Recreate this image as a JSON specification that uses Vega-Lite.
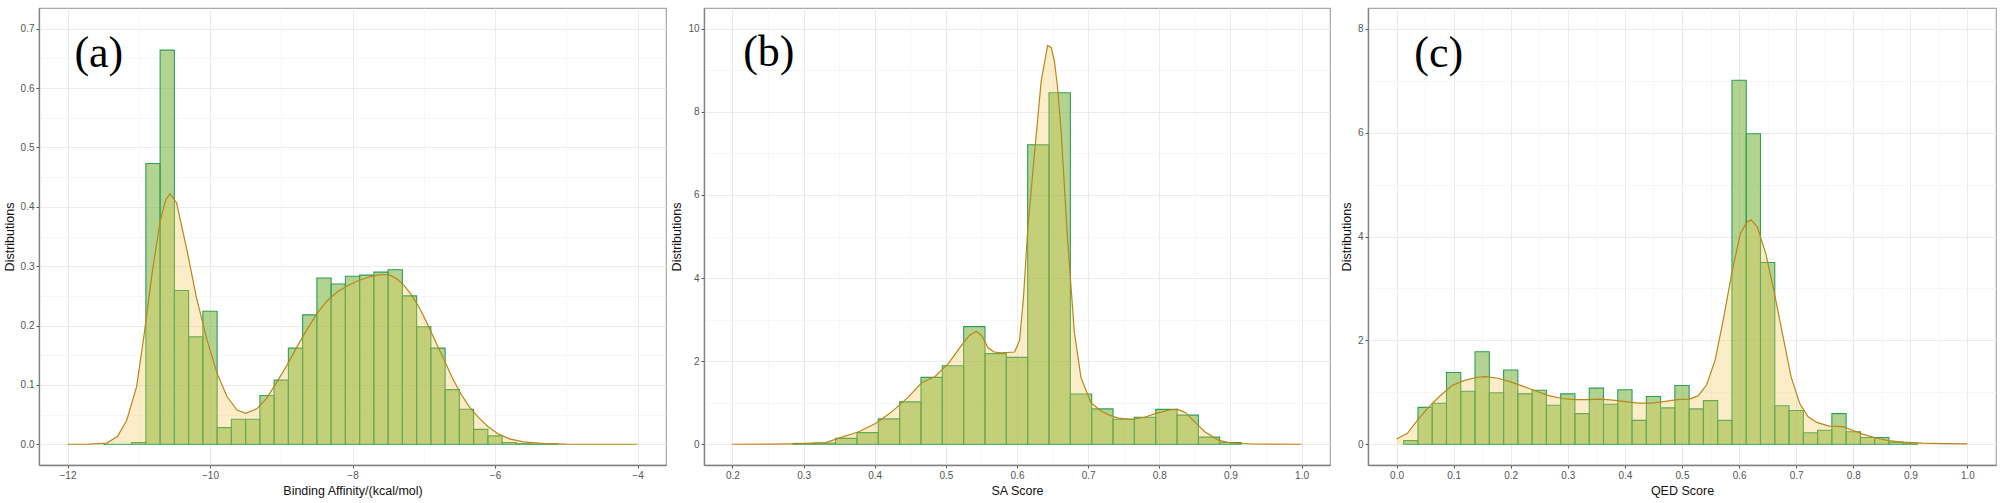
{
  "$schema": "https://vega.github.io/schema/vega-lite/v6.json",
  "padding": {"left": 2, "top": 7, "right": 0, "bottom": 0},
  "background": "white",
  "spacing": 38,
  "bounds": "flush",
  "config": {
    "font": "Liberation Sans",
    "view": {"stroke": "#a8a8a8", "strokeWidth": 1.2},
    "axis": {
      "gridColor": "#ebebeb", "gridWidth": 1,
      "domain": true, "domainColor": "#808080", "domainWidth": 1.3,
      "tickColor": "#555555", "tickSize": 3,
      "labelFontSize": 10, "labelColor": "#555555", "labelPadding": 2, "labelFlush": false, "labelOverlap": false,
      "titleFontSize": 12.5, "titleFontWeight": "normal", "titleColor": "#111111", "titlePadding": 4
    }
  },
  "datasets": {
    "binsA": [
      {"lo": -11.5, "hi": -11.3, "d": 0}, {"lo": -11.3, "hi": -11.1, "d": 0}, {"lo": -11.1, "hi": -10.9, "d": 0.003},
      {"lo": -10.9, "hi": -10.7, "d": 0.473}, {"lo": -10.7, "hi": -10.5, "d": 0.664}, {"lo": -10.5, "hi": -10.3, "d": 0.259},
      {"lo": -10.3, "hi": -10.1, "d": 0.181}, {"lo": -10.1, "hi": -9.9, "d": 0.224}, {"lo": -9.9, "hi": -9.7, "d": 0.028},
      {"lo": -9.7, "hi": -9.5, "d": 0.042}, {"lo": -9.5, "hi": -9.3, "d": 0.042}, {"lo": -9.3, "hi": -9.1, "d": 0.082},
      {"lo": -9.1, "hi": -8.9, "d": 0.108}, {"lo": -8.9, "hi": -8.7, "d": 0.162}, {"lo": -8.7, "hi": -8.5, "d": 0.218},
      {"lo": -8.5, "hi": -8.3, "d": 0.28}, {"lo": -8.3, "hi": -8.1, "d": 0.27}, {"lo": -8.1, "hi": -7.9, "d": 0.283},
      {"lo": -7.9, "hi": -7.7, "d": 0.285}, {"lo": -7.7, "hi": -7.5, "d": 0.29}, {"lo": -7.5, "hi": -7.3, "d": 0.294},
      {"lo": -7.3, "hi": -7.1, "d": 0.25}, {"lo": -7.1, "hi": -6.9, "d": 0.198}, {"lo": -6.9, "hi": -6.7, "d": 0.162},
      {"lo": -6.7, "hi": -6.5, "d": 0.092}, {"lo": -6.5, "hi": -6.3, "d": 0.059}, {"lo": -6.3, "hi": -6.1, "d": 0.025},
      {"lo": -6.1, "hi": -5.9, "d": 0.014}, {"lo": -5.9, "hi": -5.7, "d": 0.003}, {"lo": -5.7, "hi": -5.5, "d": 0.001},
      {"lo": -5.5, "hi": -5.3, "d": 0.0005}, {"lo": -5.3, "hi": -5.1, "d": 0}
    ],
    "densA": [
      {"x": -12, "y": 0}, {"x": -11.7, "y": 0.0003}, {"x": -11.45, "y": 0.002}, {"x": -11.3, "y": 0.013},
      {"x": -11.17, "y": 0.04}, {"x": -11.03, "y": 0.097}, {"x": -10.93, "y": 0.18}, {"x": -10.81, "y": 0.29},
      {"x": -10.7, "y": 0.376}, {"x": -10.62, "y": 0.412}, {"x": -10.56, "y": 0.422}, {"x": -10.47, "y": 0.407},
      {"x": -10.33, "y": 0.331}, {"x": -10.19, "y": 0.247}, {"x": -10.04, "y": 0.175}, {"x": -9.9, "y": 0.119},
      {"x": -9.76, "y": 0.08}, {"x": -9.62, "y": 0.0575}, {"x": -9.5, "y": 0.052}, {"x": -9.34, "y": 0.06},
      {"x": -9.2, "y": 0.078}, {"x": -9.06, "y": 0.105}, {"x": -8.92, "y": 0.133}, {"x": -8.78, "y": 0.164},
      {"x": -8.64, "y": 0.193}, {"x": -8.5, "y": 0.22}, {"x": -8.36, "y": 0.241}, {"x": -8.22, "y": 0.256},
      {"x": -8.07, "y": 0.267}, {"x": -7.93, "y": 0.275}, {"x": -7.79, "y": 0.281}, {"x": -7.65, "y": 0.285},
      {"x": -7.56, "y": 0.286}, {"x": -7.46, "y": 0.284}, {"x": -7.37, "y": 0.278}, {"x": -7.28, "y": 0.268},
      {"x": -7.18, "y": 0.253}, {"x": -7.06, "y": 0.23}, {"x": -6.95, "y": 0.203}, {"x": -6.83, "y": 0.172},
      {"x": -6.71, "y": 0.141}, {"x": -6.6, "y": 0.112}, {"x": -6.48, "y": 0.085}, {"x": -6.36, "y": 0.063},
      {"x": -6.24, "y": 0.046}, {"x": -6.1, "y": 0.03}, {"x": -5.95, "y": 0.017}, {"x": -5.8, "y": 0.009},
      {"x": -5.6, "y": 0.004}, {"x": -5.35, "y": 0.0015}, {"x": -5.0, "y": 0.0003}, {"x": -4.5, "y": 0}, {"x": -4, "y": 0}
    ],
    "binsB": [
      {"lo": 0.285, "hi": 0.315, "d": 0.02}, {"lo": 0.315, "hi": 0.345, "d": 0.03}, {"lo": 0.345, "hi": 0.375, "d": 0.14},
      {"lo": 0.375, "hi": 0.405, "d": 0.28}, {"lo": 0.405, "hi": 0.435, "d": 0.61}, {"lo": 0.435, "hi": 0.465, "d": 1.02},
      {"lo": 0.465, "hi": 0.495, "d": 1.61}, {"lo": 0.495, "hi": 0.525, "d": 1.89}, {"lo": 0.525, "hi": 0.555, "d": 2.83},
      {"lo": 0.555, "hi": 0.585, "d": 2.18}, {"lo": 0.585, "hi": 0.615, "d": 2.09}, {"lo": 0.615, "hi": 0.645, "d": 7.21},
      {"lo": 0.645, "hi": 0.675, "d": 8.46}, {"lo": 0.675, "hi": 0.705, "d": 1.21}, {"lo": 0.705, "hi": 0.735, "d": 0.85},
      {"lo": 0.735, "hi": 0.765, "d": 0.6}, {"lo": 0.765, "hi": 0.795, "d": 0.65}, {"lo": 0.795, "hi": 0.825, "d": 0.84},
      {"lo": 0.825, "hi": 0.855, "d": 0.7}, {"lo": 0.855, "hi": 0.885, "d": 0.17}, {"lo": 0.885, "hi": 0.915, "d": 0.04}
    ],
    "densB": [
      {"x": 0.2, "y": 0}, {"x": 0.26, "y": 0.004}, {"x": 0.3, "y": 0.015}, {"x": 0.331, "y": 0.04},
      {"x": 0.354, "y": 0.17}, {"x": 0.3775, "y": 0.3}, {"x": 0.401, "y": 0.5}, {"x": 0.424, "y": 0.78},
      {"x": 0.4474, "y": 1.14}, {"x": 0.466, "y": 1.48}, {"x": 0.4848, "y": 1.63}, {"x": 0.5034, "y": 1.94},
      {"x": 0.522, "y": 2.38}, {"x": 0.533, "y": 2.62}, {"x": 0.543, "y": 2.72}, {"x": 0.551, "y": 2.6},
      {"x": 0.5593, "y": 2.32}, {"x": 0.568, "y": 2.22}, {"x": 0.578, "y": 2.2}, {"x": 0.5966, "y": 2.22},
      {"x": 0.6036, "y": 2.5}, {"x": 0.609, "y": 3.5}, {"x": 0.6152, "y": 5.2}, {"x": 0.6246, "y": 7.0},
      {"x": 0.634, "y": 8.74}, {"x": 0.643, "y": 9.6}, {"x": 0.648, "y": 9.55}, {"x": 0.6526, "y": 9.22},
      {"x": 0.657, "y": 8.6}, {"x": 0.662, "y": 7.54}, {"x": 0.6712, "y": 4.9}, {"x": 0.6806, "y": 2.7},
      {"x": 0.69, "y": 1.6}, {"x": 0.704, "y": 1.0}, {"x": 0.718, "y": 0.8}, {"x": 0.73, "y": 0.7},
      {"x": 0.742, "y": 0.63}, {"x": 0.761, "y": 0.6}, {"x": 0.779, "y": 0.65}, {"x": 0.797, "y": 0.75},
      {"x": 0.816, "y": 0.83}, {"x": 0.826, "y": 0.84}, {"x": 0.837, "y": 0.76}, {"x": 0.849, "y": 0.55},
      {"x": 0.864, "y": 0.3}, {"x": 0.883, "y": 0.1}, {"x": 0.901, "y": 0.03}, {"x": 0.932, "y": 0.005}, {"x": 1.0, "y": 0}
    ],
    "binsC": [
      {"lo": 0.0125, "hi": 0.0375, "d": 0.07}, {"lo": 0.0375, "hi": 0.0625, "d": 0.71}, {"lo": 0.0625, "hi": 0.0875, "d": 0.79},
      {"lo": 0.0875, "hi": 0.1125, "d": 1.38}, {"lo": 0.1125, "hi": 0.1375, "d": 1.02}, {"lo": 0.1375, "hi": 0.1625, "d": 1.78},
      {"lo": 0.1625, "hi": 0.1875, "d": 0.99}, {"lo": 0.1875, "hi": 0.2125, "d": 1.43}, {"lo": 0.2125, "hi": 0.2375, "d": 0.97},
      {"lo": 0.2375, "hi": 0.2625, "d": 1.04}, {"lo": 0.2625, "hi": 0.2875, "d": 0.75}, {"lo": 0.2875, "hi": 0.3125, "d": 0.97},
      {"lo": 0.3125, "hi": 0.3375, "d": 0.59}, {"lo": 0.3375, "hi": 0.3625, "d": 1.08}, {"lo": 0.3625, "hi": 0.3875, "d": 0.77},
      {"lo": 0.3875, "hi": 0.4125, "d": 1.05}, {"lo": 0.4125, "hi": 0.4375, "d": 0.46}, {"lo": 0.4375, "hi": 0.4625, "d": 0.92},
      {"lo": 0.4625, "hi": 0.4875, "d": 0.7}, {"lo": 0.4875, "hi": 0.5125, "d": 1.13}, {"lo": 0.5125, "hi": 0.5375, "d": 0.68},
      {"lo": 0.5375, "hi": 0.5625, "d": 0.84}, {"lo": 0.5625, "hi": 0.5875, "d": 0.46}, {"lo": 0.5875, "hi": 0.6125, "d": 7.01},
      {"lo": 0.6125, "hi": 0.6375, "d": 5.98}, {"lo": 0.6375, "hi": 0.6625, "d": 3.5}, {"lo": 0.6625, "hi": 0.6875, "d": 0.74},
      {"lo": 0.6875, "hi": 0.7125, "d": 0.65}, {"lo": 0.7125, "hi": 0.7375, "d": 0.22}, {"lo": 0.7375, "hi": 0.7625, "d": 0.27},
      {"lo": 0.7625, "hi": 0.7875, "d": 0.59}, {"lo": 0.7875, "hi": 0.8125, "d": 0.24}, {"lo": 0.8125, "hi": 0.8375, "d": 0.13},
      {"lo": 0.8375, "hi": 0.8625, "d": 0.13}, {"lo": 0.8625, "hi": 0.8875, "d": 0.04}, {"lo": 0.8875, "hi": 0.9125, "d": 0.01}
    ],
    "densC": [
      {"x": 0.0, "y": 0.1}, {"x": 0.019, "y": 0.21}, {"x": 0.037, "y": 0.47}, {"x": 0.056, "y": 0.71},
      {"x": 0.074, "y": 0.91}, {"x": 0.097, "y": 1.13}, {"x": 0.119, "y": 1.23}, {"x": 0.141, "y": 1.29},
      {"x": 0.156, "y": 1.3}, {"x": 0.178, "y": 1.27}, {"x": 0.2, "y": 1.2}, {"x": 0.223, "y": 1.11},
      {"x": 0.245, "y": 1.02}, {"x": 0.268, "y": 0.93}, {"x": 0.29, "y": 0.88}, {"x": 0.312, "y": 0.86},
      {"x": 0.335, "y": 0.86}, {"x": 0.357, "y": 0.87}, {"x": 0.379, "y": 0.85}, {"x": 0.401, "y": 0.82},
      {"x": 0.424, "y": 0.79}, {"x": 0.446, "y": 0.79}, {"x": 0.468, "y": 0.82}, {"x": 0.491, "y": 0.86},
      {"x": 0.513, "y": 0.87}, {"x": 0.528, "y": 0.93}, {"x": 0.543, "y": 1.14}, {"x": 0.558, "y": 1.62},
      {"x": 0.572, "y": 2.38}, {"x": 0.587, "y": 3.28}, {"x": 0.602, "y": 4.05}, {"x": 0.613, "y": 4.27},
      {"x": 0.621, "y": 4.32}, {"x": 0.632, "y": 4.18}, {"x": 0.647, "y": 3.66}, {"x": 0.662, "y": 2.9},
      {"x": 0.677, "y": 2.07}, {"x": 0.691, "y": 1.3}, {"x": 0.706, "y": 0.79}, {"x": 0.721, "y": 0.53},
      {"x": 0.736, "y": 0.42}, {"x": 0.758, "y": 0.35}, {"x": 0.781, "y": 0.34}, {"x": 0.799, "y": 0.27},
      {"x": 0.818, "y": 0.19}, {"x": 0.84, "y": 0.12}, {"x": 0.862, "y": 0.07}, {"x": 0.885, "y": 0.04},
      {"x": 0.922, "y": 0.02}, {"x": 0.959, "y": 0.01}, {"x": 1.0, "y": 0.005}
    ]
  },
  "hconcat": [
    {
      "width": 627, "height": 457,
      "resolve": {"axis": {"x": "independent", "y": "independent"}},
      "layer": [
        {
          "data": {"name": "binsA"},
          "mark": {"type": "rect", "fill": "#73b135", "fillOpacity": 0.55, "stroke": "#2e9e5b", "strokeWidth": 1.1},
          "encoding": {
            "x": {"field": "lo", "type": "quantitative", "scale": {"domain": [-12.4, -3.6], "nice": false, "zero": false},
                  "axis": {"values": [-12, -10, -8, -6, -4], "format": "d", "title": "Binding Affinity/(kcal/mol)"}},
            "x2": {"field": "hi"},
            "y": {"field": "d", "type": "quantitative", "scale": {"domain": [-0.035, 0.735], "nice": false, "zero": false},
                  "axis": {"values": [0, 0.1, 0.2, 0.3, 0.4, 0.5, 0.6, 0.7], "format": ".1f", "title": "Distributions"}},
            "y2": {"datum": 0}
          }
        },
        {
          "data": {"name": "densA"},
          "mark": {"type": "area", "fill": "#f0c24a", "fillOpacity": 0.3},
          "encoding": {
            "x": {"field": "x", "type": "quantitative",
                  "axis": {"orient": "top", "values": [-11, -9, -7, -5], "grid": true, "gridColor": "#f3f3f3", "gridWidth": 0.7, "labels": false, "ticks": false, "domain": false, "title": null}},
            "y": {"field": "y", "type": "quantitative",
                  "axis": {"orient": "right", "values": [0.05, 0.15, 0.25, 0.35, 0.45, 0.55, 0.65], "grid": true, "gridColor": "#f3f3f3", "gridWidth": 0.7, "labels": false, "ticks": false, "domain": false, "title": null}},
            "y2": {"datum": 0}
          }
        },
        {
          "data": {"name": "densA"},
          "mark": {"type": "line", "stroke": "#b8861b", "strokeWidth": 1.2},
          "encoding": {
            "x": {"field": "x", "type": "quantitative", "axis": null},
            "y": {"field": "y", "type": "quantitative", "axis": null}
          }
        },
        {
          "data": {"values": [{"label": "(a)"}]},
          "mark": {"type": "text", "font": "Liberation Serif", "fontSize": 44, "align": "center", "baseline": "middle", "color": "#000000"},
          "encoding": {
            "x": {"datum": -11.56, "type": "quantitative", "axis": null},
            "y": {"datum": 0.658, "type": "quantitative", "axis": null},
            "text": {"field": "label"}
          }
        }
      ]
    },
    {
      "width": 626, "height": 457,
      "resolve": {"axis": {"x": "independent", "y": "independent"}},
      "layer": [
        {
          "data": {"name": "binsB"},
          "mark": {"type": "rect", "fill": "#73b135", "fillOpacity": 0.55, "stroke": "#2e9e5b", "strokeWidth": 1.1},
          "encoding": {
            "x": {"field": "lo", "type": "quantitative", "scale": {"domain": [0.16, 1.04], "nice": false, "zero": false},
                  "axis": {"values": [0.2, 0.3, 0.4, 0.5, 0.6, 0.7, 0.8, 0.9, 1.0], "format": ".1f", "title": "SA Score"}},
            "x2": {"field": "hi"},
            "y": {"field": "d", "type": "quantitative", "scale": {"domain": [-0.5, 10.5], "nice": false, "zero": false},
                  "axis": {"values": [0, 2, 4, 6, 8, 10], "format": "d", "title": "Distributions"}},
            "y2": {"datum": 0}
          }
        },
        {
          "data": {"name": "densB"},
          "mark": {"type": "area", "fill": "#f0c24a", "fillOpacity": 0.3},
          "encoding": {
            "x": {"field": "x", "type": "quantitative",
                  "axis": {"orient": "top", "values": [0.25, 0.35, 0.45, 0.55, 0.65, 0.75, 0.85, 0.95], "grid": true, "gridColor": "#f3f3f3", "gridWidth": 0.7, "labels": false, "ticks": false, "domain": false, "title": null}},
            "y": {"field": "y", "type": "quantitative",
                  "axis": {"orient": "right", "values": [1, 3, 5, 7, 9], "grid": true, "gridColor": "#f3f3f3", "gridWidth": 0.7, "labels": false, "ticks": false, "domain": false, "title": null}},
            "y2": {"datum": 0}
          }
        },
        {
          "data": {"name": "densB"},
          "mark": {"type": "line", "stroke": "#b8861b", "strokeWidth": 1.2},
          "encoding": {
            "x": {"field": "x", "type": "quantitative", "axis": null},
            "y": {"field": "y", "type": "quantitative", "axis": null}
          }
        },
        {
          "data": {"values": [{"label": "(b)"}]},
          "mark": {"type": "text", "font": "Liberation Serif", "fontSize": 44, "align": "center", "baseline": "middle", "color": "#000000"},
          "encoding": {
            "x": {"datum": 0.2512, "type": "quantitative", "axis": null},
            "y": {"datum": 9.41, "type": "quantitative", "axis": null},
            "text": {"field": "label"}
          }
        }
      ]
    },
    {
      "width": 628, "height": 457,
      "resolve": {"axis": {"x": "independent", "y": "independent"}},
      "layer": [
        {
          "data": {"name": "binsC"},
          "mark": {"type": "rect", "fill": "#73b135", "fillOpacity": 0.55, "stroke": "#2e9e5b", "strokeWidth": 1.1},
          "encoding": {
            "x": {"field": "lo", "type": "quantitative", "scale": {"domain": [-0.05, 1.05], "nice": false, "zero": false},
                  "axis": {"values": [0, 0.1, 0.2, 0.3, 0.4, 0.5, 0.6, 0.7, 0.8, 0.9, 1.0], "format": ".1f", "title": "QED Score"}},
            "x2": {"field": "hi"},
            "y": {"field": "d", "type": "quantitative", "scale": {"domain": [-0.4, 8.4], "nice": false, "zero": false},
                  "axis": {"values": [0, 2, 4, 6, 8], "format": "d", "title": "Distributions"}},
            "y2": {"datum": 0}
          }
        },
        {
          "data": {"name": "densC"},
          "mark": {"type": "area", "fill": "#f0c24a", "fillOpacity": 0.3},
          "encoding": {
            "x": {"field": "x", "type": "quantitative",
                  "axis": {"orient": "top", "values": [0.05, 0.15, 0.25, 0.35, 0.45, 0.55, 0.65, 0.75, 0.85, 0.95], "grid": true, "gridColor": "#f3f3f3", "gridWidth": 0.7, "labels": false, "ticks": false, "domain": false, "title": null}},
            "y": {"field": "y", "type": "quantitative",
                  "axis": {"orient": "right", "values": [1, 3, 5, 7], "grid": true, "gridColor": "#f3f3f3", "gridWidth": 0.7, "labels": false, "ticks": false, "domain": false, "title": null}},
            "y2": {"datum": 0}
          }
        },
        {
          "data": {"name": "densC"},
          "mark": {"type": "line", "stroke": "#b8861b", "strokeWidth": 1.2},
          "encoding": {
            "x": {"field": "x", "type": "quantitative", "axis": null},
            "y": {"field": "y", "type": "quantitative", "axis": null}
          }
        },
        {
          "data": {"values": [{"label": "(c)"}]},
          "mark": {"type": "text", "font": "Liberation Serif", "fontSize": 44, "align": "center", "baseline": "middle", "color": "#000000"},
          "encoding": {
            "x": {"datum": 0.074, "type": "quantitative", "axis": null},
            "y": {"datum": 7.52, "type": "quantitative", "axis": null},
            "text": {"field": "label"}
          }
        }
      ]
    }
  ]
}
